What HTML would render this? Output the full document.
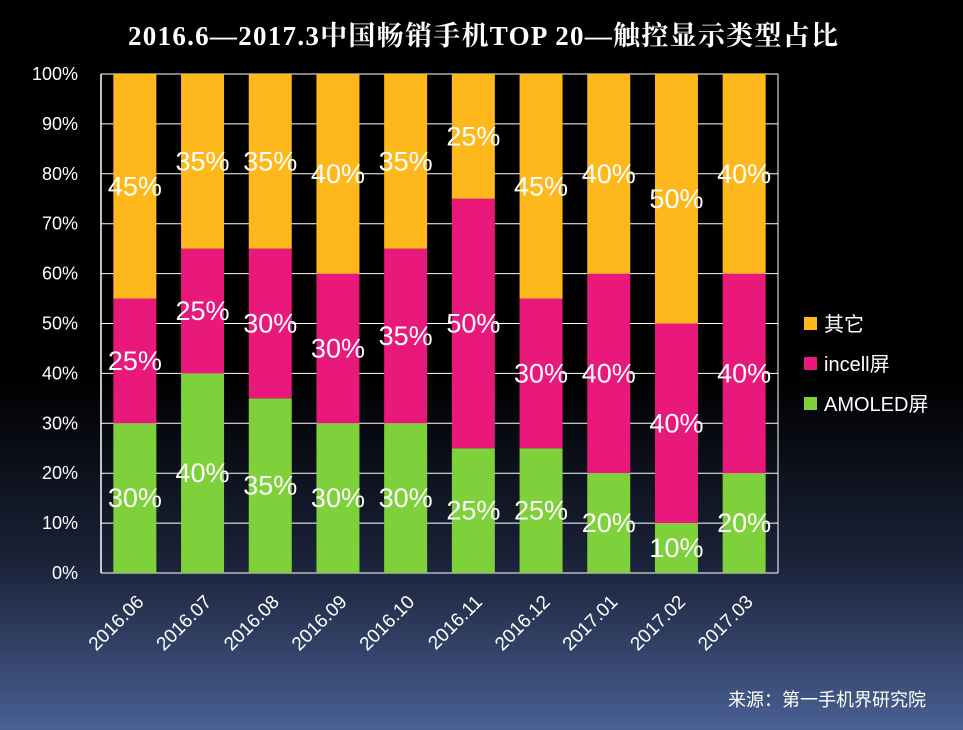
<!DOCTYPE html>
<html><head><meta charset="utf-8"><style>
body{margin:0;width:963px;height:730px;overflow:hidden;background:linear-gradient(to bottom,#000 0px,#000 380px,#1a2238 560px,#3b4d78 680px,#4a6196 730px);font-family:"Liberation Sans","Noto Sans CJK SC",sans-serif;}
svg{position:absolute;left:0;top:0}
</style></head><body>
<svg width="963" height="730" id="c"></svg>
<script>
const categories=["2016.06","2016.07","2016.08","2016.09","2016.10","2016.11","2016.12","2017.01","2017.02","2017.03"];
const amoled=[30,40,35,30,30,25,25,20,10,20];
const incell=[25,25,30,30,35,50,30,40,40,40];
const other=[45,35,35,40,35,25,45,40,50,40];
const yTicks=[0,10,20,30,40,50,60,70,80,90,100];
const L=101,R=778,T=74,B=573,slot=(R-L)/categories.length,bw=43;
const y=v=>B-(B-T)*v/100, x=i=>L+slot*i+slot/2;
const s=document.getElementById('c'),NS="http://www.w3.org/2000/svg";
function mk(t,a,txt){const e=document.createElementNS(NS,t);for(const k in a)e.setAttribute(k,a[k]);if(txt!=null)e.textContent=txt;s.appendChild(e);return e;}
let e=mk('text',{x:483,y:45,'text-anchor':'middle',fill:'#fff','font-size':27,'font-weight':'bold','font-family':'"Liberation Serif","Noto Serif CJK SC",serif',textLength:710},'2016.6—2017.3中国畅销手机TOP 20—触控显示类型占比');

yTicks.forEach(v=>{
 let l=mk('line',{x1:L,x2:R,y1:y(v),y2:y(v),stroke:'#fff','stroke-width':1});
 
 let t=mk('text',{x:78,y:y(v)+6,'text-anchor':'end',fill:'#fff','font-size':18},v+'%');
 
});
const series=[[amoled,'#7fd13b','amoled'],[incell,'#e8197b','incell'],[other,'#ffb81c','other']];
categories.forEach((c,i)=>{
 let base=0;
 series.forEach(([arr,col,nm])=>{
  const v=arr[i];
  let r=mk('rect',{x:x(i)-bw/2,y:y(base+v),width:bw,height:y(base)-y(base+v),fill:col});
  
  let t=mk('text',{x:x(i),y:y(base+v/2)+9,'text-anchor':'middle',fill:'#fff','font-size':27},v+'%');
  
  base+=v;
 });
 let t=mk('text',{x:x(i)+10,y:B+30,'text-anchor':'end',fill:'#fff','font-size':19,transform:`rotate(-45 ${x(i)+10} ${B+30})`},c);
 
});
let ax=mk('line',{x1:L,x2:L,y1:T,y2:B,stroke:'#fff','stroke-width':1.5});

let ax2=mk('line',{x1:R,x2:R,y1:T,y2:B,stroke:'#fff','stroke-width':1});

const leg=[['其它','#ffb81c',324],['incell屏','#e8197b',364],['AMOLED屏','#7fd13b',404]];
leg.forEach(([n,col,yy])=>{
 let r=mk('rect',{x:804,y:yy-7,width:13,height:13,fill:col});
 
 let t=mk('text',{x:824,y:yy+7,fill:'#fff','font-size':20},n);
 
});
let src=mk('text',{x:926,y:706,'text-anchor':'end',fill:'#fff','font-size':18},'来源：第一手机界研究院');

</script>
</body></html>
